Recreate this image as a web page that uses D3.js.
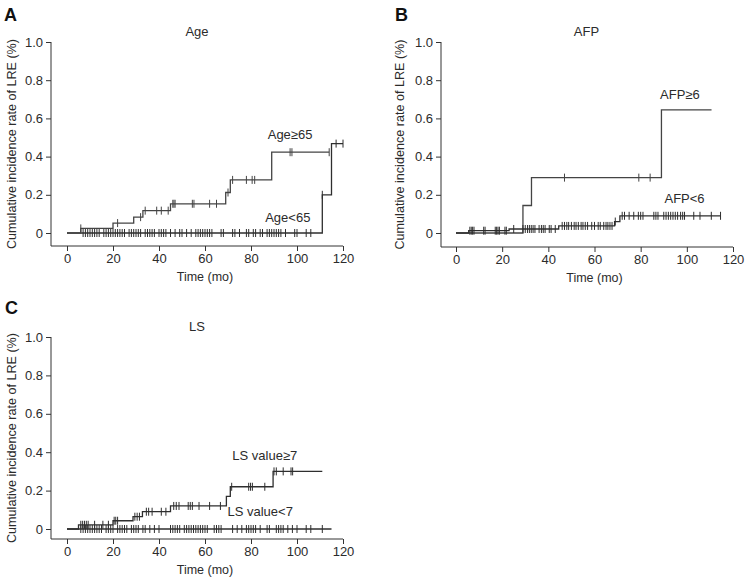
<!DOCTYPE html>
<html>
<head>
<meta charset="utf-8">
<script src="https://cdn.jsdelivr.net/npm/d3@7"></script>
<style>
  body { margin: 0; background: #fff; }
  svg { display: block; font-family: "Liberation Sans", Arial, sans-serif; }
</style>
</head>
<body>
<svg id="chart" width="748" height="584"></svg>
<script>
// ---- data (time in months, cumulative incidence) ----
const yTicks = [0, 0.2, 0.4, 0.6, 0.8, 1.0];
const xTicks = [0, 20, 40, 60, 80, 100, 120];

// A: Age
const ageHiSteps = [[0, 0], [6, 0.024], [20, 0.052], [29, 0.083], [33, 0.117], [45, 0.153], [69, 0.212], [71, 0.278], [89, 0.423]];
const ageHiEnd = 114;
const ageHiCensor = [6, 22, 32, 34, 39, 41, 44, 46, 46.5, 47, 54.5, 55.2, 62, 65, 70, 72, 78, 80.5, 81.6, 97, 97.8, 114];
const ageLoSteps = [[0, 0], [111, 0.2], [115, 0.468]];
const ageLoEnd = 120;
const ageLoCensor = [7, 8, 9, 10, 11, 12, 13, 14, 16, 17, 18, 19, 20, 21, 22, 23, 24, 25, 27, 28, 29, 30, 31, 32, 34, 35, 36, 37, 38,
  40, 41, 42, 43, 45, 47, 49, 50, 52, 54, 56, 57, 58, 59, 60, 61, 62, 63, 67, 68, 72, 73, 75, 78, 79, 81, 82, 84, 85, 87, 88,
  89, 90, 91, 92, 93, 95, 99, 100, 104, 106, 111, 117, 120];

// B: AFP
const afpHiSteps = [[0, 0], [29, 0.144], [32.7, 0.29], [89, 0.645]];
const afpHiEnd = 110.7;
const afpHiCensor = [47, 79.2, 84.1];
const afpLoSteps = [[0, 0], [5.5, 0.012], [23, 0.021], [44.5, 0.037], [68.7, 0.06], [71, 0.09]];
const afpLoEnd = 114.6;
const afpLoCensor = [6, 6.6, 7.2, 7.8, 12, 12.6, 17, 17.6, 18.2, 18.8, 21.2, 21.8, 25, 29, 30, 31, 31.8, 32.6, 33.4, 34.2,
  36, 37, 37.8, 38.6, 40.4, 41.2, 43, 46, 47, 48, 48.8, 50, 51.2, 52, 53, 54.2, 55, 56, 57, 58.8, 60, 61.6, 62.5, 64, 65, 65.8,
  66.7, 67.6, 69, 72, 73, 75, 77, 79, 80, 81, 85.7, 86.6, 87.5, 90, 91, 92, 93, 94, 95, 96, 97.3, 98.2, 99, 103, 105.7,
  110.6, 114.6];

// C: LS
const lsHiSteps = [[0, 0], [5, 0.022], [20, 0.043], [28.7, 0.064], [32.8, 0.09], [45, 0.12], [69.3, 0.17], [71, 0.22], [89.6, 0.3]];
const lsHiEnd = 111;
const lsHiCensor = [6, 6.8, 7.6, 8.4, 9.2, 12, 15.6, 18, 20.5, 21.2, 22, 29.5, 30.5, 31.5, 34.5, 35.5, 37, 41, 43,
  46.4, 47.5, 48.7, 52.7, 53.6, 54.5, 57.4, 62, 66.7, 71.6, 79, 79.8, 80.6, 86, 90, 91, 94, 97.4, 98.1];
const lsLoSteps = [[0, 0]];
const lsLoEnd = 115;
const lsLoCensor = [6, 7, 8, 9, 10, 11, 12, 13, 14, 15, 17, 18, 19, 20, 22, 23, 24, 25, 26, 28, 29, 30, 31, 33, 34, 36,
  38, 40, 45, 46, 47, 48, 49, 51, 52, 53, 54, 55, 56, 57, 58, 59, 60, 61, 64, 65, 66, 67, 72, 74, 76, 78, 79, 80, 81, 82,
  84, 87, 88, 91, 92, 93, 94, 96, 98, 100, 104, 106, 111];

const panels = [
  { letter: "A", title: "Age", x0: 67, x1: 343, y0: 233, y1: 42, axX: 51, axY: 246, lx: 4, ly: 21, ylx: 12,
    curves: [
      { steps: ageLoSteps, end: ageLoEnd, censor: ageLoCensor, color: "#2e2e2e" },
      { steps: ageHiSteps, end: ageHiEnd, censor: ageHiCensor, color: "#444" }
    ],
    labels: [{ text: "Age≥65", t: 97, v: 0.49 }, { text: "Age<65", t: 96, v: 0.06 }] },
  { letter: "B", title: "AFP", x0: 456, x1: 733, y0: 233, y1: 42, axX: 441, axY: 247, lx: 395, ly: 21, ylx: 400,
    curves: [
      { steps: afpHiSteps, end: afpHiEnd, censor: afpHiCensor, color: "#444" },
      { steps: afpLoSteps, end: afpLoEnd, censor: afpLoCensor, color: "#2e2e2e" }
    ],
    labels: [{ text: "AFP≥6", t: 97, v: 0.7 }, { text: "AFP<6", t: 99, v: 0.155 }] },
  { letter: "C", title: "LS", x0: 67, x1: 343, y0: 529, y1: 337, axX: 51, axY: 539, lx: 5, ly: 314, ylx: 12,
    curves: [
      { steps: lsLoSteps, end: lsLoEnd, censor: lsLoCensor, color: "#2e2e2e" },
      { steps: lsHiSteps, end: lsHiEnd, censor: lsHiCensor, color: "#2e2e2e" }
    ],
    labels: [{ text: "LS value≥7", t: 86, v: 0.36 }, { text: "LS value<7", t: 84, v: 0.07 }] }
];

const svg = d3.select("#chart");
svg.append("rect").attr("width", 748).attr("height", 584).attr("fill", "#fff");

const fmtY = d => d === 0 ? "0" : d3.format(".1f")(d);
const bis = d3.bisector(d => d[0]).right;
const txt = "#2b2b2b";

function stepPath(steps, end, x, y) {
  const pts = [];
  steps.forEach((s, i) => {
    if (i > 0) pts.push([s[0], steps[i - 1][1]]);
    pts.push(s);
  });
  pts.push([end, steps[steps.length - 1][1]]);
  return d3.line().x(d => x(d[0])).y(d => y(d[1]))(pts);
}

panels.forEach(p => {
  const x = d3.scaleLinear().domain([0, 120]).range([p.x0, p.x1]);
  const y = d3.scaleLinear().domain([0, 1]).range([p.y0, p.y1]);
  const g = svg.append("g");

  // axes
  const ya = g.append("g").attr("transform", `translate(${p.axX},0)`)
    .call(d3.axisLeft(y).tickValues(yTicks).tickFormat(fmtY).tickSize(5).tickPadding(3));
  const xa = g.append("g").attr("transform", `translate(0,${p.axY})`)
    .call(d3.axisBottom(x).tickValues(xTicks).tickSize(5).tickPadding(3));
  [ya, xa].forEach(a => {
    a.select(".domain").remove();
    a.selectAll("line").attr("stroke", "#333");
    a.selectAll("text").attr("fill", txt).attr("font-size", 13);
  });
  g.append("path")
    .attr("d", `M${p.axX},${y(1)}V${p.axY}H${x(120)}`)
    .attr("fill", "none").attr("stroke", "#333").attr("stroke-width", 1);

  // curves
  p.curves.forEach(c => {
    g.append("path").attr("d", stepPath(c.steps, c.end, x, y))
      .attr("fill", "none").attr("stroke", c.color).attr("stroke-width", 1.3);
    g.selectAll(null).data(c.censor).join("line")
      .attr("x1", t => x(t)).attr("x2", t => x(t))
      .attr("y1", t => y(c.steps[bis(c.steps, t) - 1][1]) - 4)
      .attr("y2", t => y(c.steps[bis(c.steps, t) - 1][1]) + 4)
      .attr("stroke", c.color).attr("stroke-width", 1);
  });

  // texts
  g.selectAll(null).data(p.labels).join("text")
    .attr("x", d => x(d.t)).attr("y", d => y(d.v))
    .attr("text-anchor", "middle").attr("font-size", 13).attr("fill", txt)
    .text(d => d.text);
  g.append("text").attr("x", (p.x0 + p.x1) / 2 - 8).attr("y", p.y1 - 6)
    .attr("text-anchor", "middle").attr("font-size", 13).attr("fill", txt).text(p.title);
  g.append("text").attr("x", (p.x0 + p.x1) / 2).attr("y", p.axY + 35)
    .attr("text-anchor", "middle").attr("font-size", 12.5).attr("fill", txt).text("Time (mo)");
  g.append("text")
    .attr("transform", `translate(${p.ylx},${(p.y1 + p.axY) / 2}) rotate(-90)`)
    .attr("text-anchor", "middle").attr("dy", "0.35em").attr("font-size", 12.6).attr("fill", txt)
    .text("Cumulative incidence rate of LRE (%)");
  g.append("text").attr("x", p.lx).attr("y", p.ly)
    .attr("font-weight", "bold").attr("font-size", 18).attr("fill", "#111").text(p.letter);
});
</script>
</body>
</html>
